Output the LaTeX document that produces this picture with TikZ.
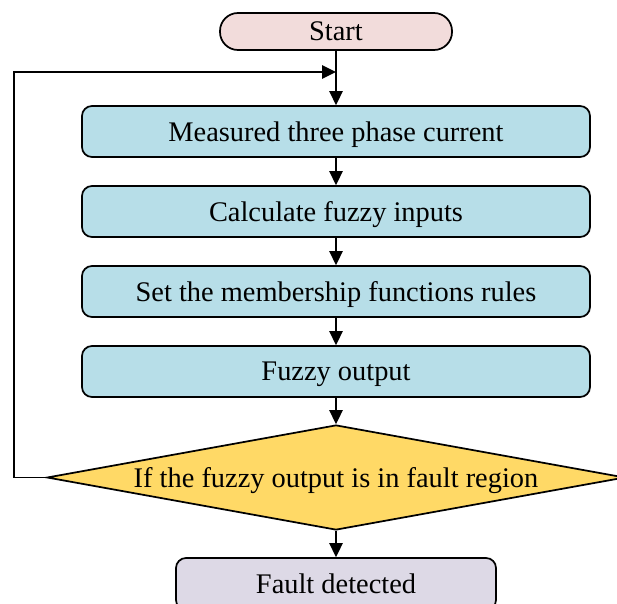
\documentclass[tikz,border=0pt]{standalone}
\usepackage{fontspec}
\setmainfont{Liberation Serif}
\usetikzlibrary{shapes.geometric,arrows.meta}
\definecolor{startfill}{HTML}{F2DCDB}
\definecolor{stepfill}{HTML}{B7DEE8}
\definecolor{decfill}{HTML}{FFD966}
\definecolor{endfill}{HTML}{DDD9E6}
\begin{document}
\begin{tikzpicture}[x=0.75pt,y=-0.75pt,
  every node/.style={font=\fontsize{21.3}{24}\selectfont, line width=1.3pt, draw=black, text depth=0pt},
  startbox/.style={rounded corners=13.5pt, fill=startfill, minimum width=174pt, minimum height=27.75pt, inner sep=0pt},
  procbox/.style={rounded corners=7.5pt, fill=stepfill, minimum width=381pt, minimum height=38.25pt, inner sep=0pt},
  endbox/.style={rounded corners=7.5pt, fill=endfill, minimum width=240pt, minimum height=39pt, inner sep=0pt},
  decbox/.style={diamond, fill=decfill, shape aspect=5.5, inner sep=0pt, minimum width=433.5pt, minimum height=78.75pt},
  arr/.style={line width=1.3pt, -{Triangle[length=10.5pt,width=10pt]}},
  lin/.style={line width=1.3pt}]
\useasboundingbox (0,0) rectangle (617,603);

\node[startbox] (start) at (336,31.5) {Start};
\node[procbox] (m) at (336,131.5) {Measured three phase current};
\node[procbox] (c) at (336,211.5) {Calculate fuzzy inputs};
\node[procbox] (s) at (336,291.5) {Set the membership functions rules};
\node[procbox] (o) at (336,371.5) {Fuzzy output};
\node[decbox] (d) at (336,477.5) {If the fuzzy output is in fault region};
\node[endbox] (f) at (336,584) {Fault detected};

\coordinate (j) at (336,72);
\coordinate (lp) at (14,477.5);

\draw[arr] (start) -- (m);
\draw[arr] (m) -- (c);
\draw[arr] (c) -- (s);
\draw[arr] (s) -- (o);
\draw[arr] (o) -- (d);
\draw[arr] (d) -- (f);
\draw[arr] (d.west) -- (lp) |- (j);
\end{tikzpicture}
\end{document}
